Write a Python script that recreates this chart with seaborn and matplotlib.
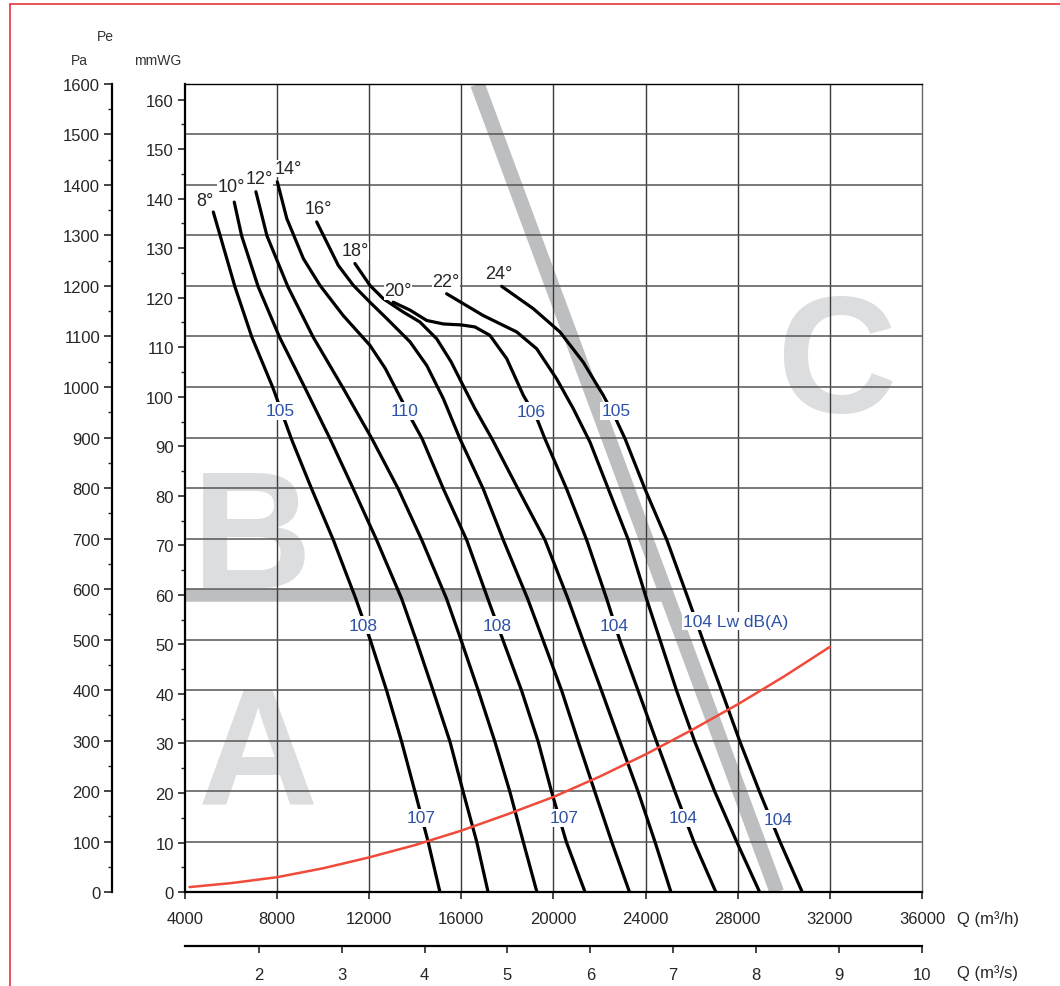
import seaborn as sns
import pandas as pd
import matplotlib.pyplot as plt
import numpy as np
from matplotlib.lines import Line2D

sns.set_style("ticks")
plt.rcParams['font.family'] = ['Liberation Sans', 'DejaVu Sans']

# fan curves per blade angle, Q in m3/h, Pe in mmWG
angles = ["8°", "10°", "12°", "14°", "16°", "18°", "20°", "22°", "24°"]

q_8 = [5230, 5530, 6170, 6900, 7820, 8620, 9500, 10440, 11420, 12060, 12760, 13410, 13990, 14560, 15070]
h_8 = [137.3, 132.5, 122.2, 112.1, 101.8, 91.5, 81.4, 71.1, 59.2, 50.7, 40.6, 30.3, 20.2, 10.1, 0]

q_10 = [6140, 6460, 7180, 8100, 9210, 10300, 11310, 12320, 13410, 14050, 14780, 15510, 16080, 16670, 17160]
h_10 = [139.3, 132.5, 122.2, 112.1, 101.8, 91.5, 81.4, 71.1, 59.2, 50.7, 40.6, 30.3, 20.2, 10.1, 0]

q_12 = [7080, 7560, 8470, 9560, 10860, 12120, 13260, 14280, 15360, 16000, 16740, 17460, 18110, 18690, 19280]
h_12 = [141.4, 132.5, 122.2, 112.1, 101.8, 91.5, 81.4, 71.1, 59.2, 50.7, 40.6, 30.3, 20.2, 10.1, 0]

q_14 = [8010, 8420, 9140, 9860, 10870, 12030, 12700, 13300, 13900, 14300, 15220, 16230, 17150, 17820, 18620, 19340, 19920, 20560, 21370]
h_14 = [143.4, 136.0, 127.9, 122.5, 116.4, 110.4, 105.7, 100.3, 94.9, 91.5, 81.4, 71.1, 59.2, 50.7, 40.6, 30.3, 20.2, 10.1, 0]

q_16 = [9720, 10660, 11310, 12030, 12760, 13770, 14500, 15220, 15940, 16950, 17820, 18880, 19560, 20360, 21080, 21800, 22530, 23300]
h_16 = [135.3, 126.5, 122.5, 119.1, 115.8, 111.1, 106.3, 99.6, 91.5, 81.4, 71.1, 59.2, 50.7, 40.6, 30.3, 20.2, 10.1, 0]

q_18 = [11380, 12030, 12610, 13480, 14200, 14930, 15550, 16160, 16590, 17330, 18460, 19630, 20630, 21290, 22090, 22890, 23680, 24410, 25100]
h_18 = [126.9, 122.5, 119.8, 117.1, 115.1, 111.7, 107.1, 101.5, 97.6, 91.5, 81.4, 71.1, 59.2, 50.7, 40.6, 30.3, 20.2, 10.1, 0]

q_20 = [13040, 13770, 14500, 15220, 16010, 16590, 17240, 17970, 18690, 19280, 19630, 20570, 21440, 22310, 22890, 23680, 24480, 25280, 26100, 27050]
h_20 = [119.1, 117.5, 115.4, 114.7, 114.5, 114.1, 112.4, 107.7, 100.3, 95.6, 91.5, 81.4, 71.1, 59.2, 50.7, 40.6, 30.3, 20.2, 10.1, 0]

q_22 = [15360, 16950, 18400, 19270, 20140, 20860, 21590, 22380, 23250, 24040, 24640, 25350, 26140, 27010, 27960, 28950]
h_22 = [120.8, 116.4, 113.1, 109.7, 103.6, 97.6, 90.8, 81.4, 71.1, 59.2, 50.7, 40.6, 30.3, 20.2, 10.1, 0]

q_24 = [17750, 19120, 20280, 21290, 22160, 22670, 23110, 23970, 24920, 25850, 26500, 27300, 28100, 28950, 29840, 30800]
h_24 = [122.3, 117.8, 113.1, 107.0, 100.3, 95.9, 91.5, 81.4, 71.1, 59.2, 50.7, 40.6, 30.3, 20.2, 10.1, 0]

# system resistance curve
q_sys = [4200, 6000, 8000, 10000, 12000, 14000, 16000, 18000, 20000, 22000, 24000, 26000, 28000, 30000, 32000]
h_sys = [1.0, 1.8, 3.0, 4.8, 7.0, 9.5, 12.4, 15.7, 19.2, 23.3, 27.8, 32.7, 37.9, 43.5, 49.5]

# zone limits (grey bands)
band_diag_q = [16700, 29700]
band_diag_h = [163.1, 0]
band_flat_q = [4000, 24900]
band_flat_h = [60, 60]

# labels: angle at curve tops, sound levels along curves
angle_lab_q = [4870, 6020, 7230, 8500, 9780, 11380, 13250, 15330, 17630]
angle_lab_h = [139.6, 142.4, 144.0, 146.1, 138.0, 129.5, 121.4, 123.2, 124.8]

db_text = ["105", "110", "106", "105", "108", "108", "104", "107", "107", "104", "104"]
db_q = [8125, 13550, 19020, 22710, 11730, 17550, 22630, 14250, 20460, 25620, 29750]
db_h = [97.2, 97.2, 97.1, 97.2, 53.9, 53.9, 53.9, 15.0, 15.0, 15.0, 14.7]

zones = ["A", "B", "C"]
zone_q = [7170, 6910, 32270]
zone_h = [17.8, 61.6, 97.2]

curves = [(q_8, h_8), (q_10, h_10), (q_12, h_12), (q_14, h_14), (q_16, h_16),
          (q_18, h_18), (q_20, h_20), (q_22, h_22), (q_24, h_24)]
df = pd.concat([pd.DataFrame({"Q": q, "H": h, "angle": a})
                for a, (q, h) in zip(angles, curves)], ignore_index=True)
sys_df = pd.DataFrame({"Q": q_sys, "H": h_sys})

PA = 9.80665
fig = plt.figure(figsize=(10.6, 9.87), dpi=100)
ax = fig.add_axes([0.1745, 0.0952, 0.6953, 0.8187])

# grid: vertical every 4000 m3/h, horizontal every 100 Pa
for q in range(8000, 36000, 4000):
    ax.axvline(q, color="#3a3a3a", lw=1.0, zorder=0.6)
for p in range(100, 1600, 100):
    ax.axhline(p / PA, color="#555555", lw=1.1, zorder=0.6)

for z, zq, zh in zip(zones, zone_q, zone_h):
    ax.text(zq, zh, z, fontsize=120, fontweight="bold", color="#dcdddf",
            ha="center", va="baseline", zorder=0.2)

ax.plot(band_diag_q, band_diag_h, color="#bdbec0", lw=10.5, solid_capstyle="butt", zorder=0.5)
ax.plot(band_flat_q, band_flat_h, color="#bdbec0", lw=9, solid_capstyle="butt", zorder=0.5)

sns.lineplot(data=df, x="Q", y="H", units="angle", estimator=None, sort=False,
             color="black", linewidth=2.3, ax=ax, zorder=2)
sns.lineplot(data=sys_df, x="Q", y="H", estimator=None, sort=False,
             color="#f04a3a", linewidth=1.8, ax=ax, zorder=2.5)

box = dict(facecolor="white", edgecolor="none", pad=1.0)
tight_box = dict(facecolor="white", edgecolor="none", pad=0.2)
for a, lq, lh in zip(angles, angle_lab_q, angle_lab_h):
    ax.text(lq, lh, a, fontsize=13, ha="center", va="center", bbox=tight_box, zorder=3)
for t, lq, lh in zip(db_text, db_q, db_h):
    ax.text(lq, lh, t, fontsize=12.5, color="#2d52a8", ha="center", va="center", bbox=box, zorder=3)
ax.text(25620, 54.7, "104 Lw dB(A)", fontsize=12.5, color="#2d52a8", ha="left", va="center",
        bbox=box, zorder=3)

ax.set_xlim(4000, 36000)
ax.set_ylim(0, 1600 / PA)
ax.set_xlabel("")
ax.set_ylabel("")
ax.set_xticks(range(4000, 36001, 4000))
ax.set_yticks(range(0, 161, 10))
ax.set_yticks(range(5, 161, 10), minor=True)
ax.tick_params(axis="x", direction="out", length=5, width=1.2, labelsize=12, pad=9)
ax.tick_params(axis="y", which="major", direction="out", length=5, width=1.2, labelsize=12, pad=3)
ax.tick_params(axis="y", which="minor", direction="out", length=3, width=1.0)
for s in ["left", "bottom"]:
    ax.spines[s].set_linewidth(1.6)
    ax.spines[s].set_color("black")
ax.spines["top"].set_linewidth(1.0)
ax.spines["top"].set_color("black")
ax.spines["right"].set_linewidth(1.0)
ax.spines["right"].set_color("#666666")

# outer Pa axis
secy = ax.secondary_yaxis(-0.099, functions=(lambda h: h * PA, lambda p: p / PA))
secy.set_yticks(range(0, 1601, 100))
secy.set_yticks(range(50, 1600, 100), minor=True)
secy.tick_params(axis="y", which="major", direction="out", length=5.5, width=1.2, labelsize=12, pad=3)
secy.tick_params(axis="y", which="minor", direction="out", length=3, width=1.0)
for s in secy.spines.values():
    s.set_linewidth(1.6)
    s.set_color("black")

# m3/s axis below
secx = ax.secondary_xaxis(-0.0668, functions=(lambda q: q / 3600, lambda s: s * 3600))
secx.set_xticks(range(2, 11))
secx.tick_params(axis="x", direction="out", length=5, width=1.2, labelsize=12, pad=10)
for s in secx.spines.values():
    s.set_linewidth(1.6)
    s.set_color("black")

fig.text(105 / 1060, 1 - 37 / 987, "Pe", fontsize=10, color="#333333", ha="center", va="center")
fig.text(79 / 1060, 1 - 61 / 987, "Pa", fontsize=10, color="#333333", ha="center", va="center")
fig.text(158 / 1060, 1 - 61 / 987, "mmWG", fontsize=10, color="#333333", ha="center", va="center")
fig.text(957 / 1060, 1 - 919 / 987, "Q (m³/h)", fontsize=12, ha="left", va="center")
fig.text(957 / 1060, 1 - 973 / 987, "Q (m³/s)", fontsize=12, ha="left", va="center")

# red frame on the left and top
fig.add_artist(Line2D([10 / 1060, 10 / 1060], [0, 1 - 5 / 987], color="#e8333c", lw=1.2,
                      transform=fig.transFigure))
fig.add_artist(Line2D([10 / 1060, 1], [1 - 5 / 987, 1 - 5 / 987], color="#e8333c", lw=1.2,
                      transform=fig.transFigure))

fig.savefig("out.png", dpi=100)
